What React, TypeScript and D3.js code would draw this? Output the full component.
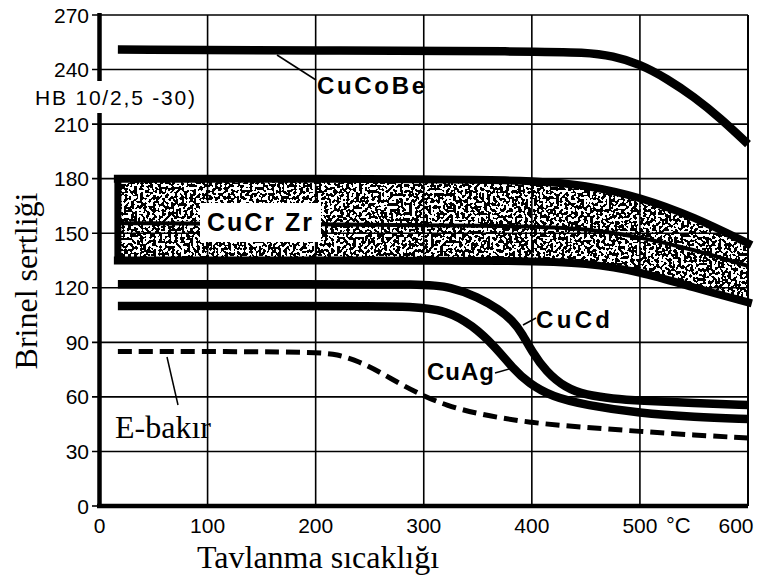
import React from "react";
import * as d3 from "d3";

// ---- data (temperature °C, Brinell hardness HB) ----
const T_COBE = [17, 200, 400, 450, 475, 500, 525, 550, 575, 600];
const HB_COBE = [251, 250.5, 250, 249.5, 247.5, 243, 235, 225, 213, 199];

const T_ZR = [17, 200, 400, 450, 500, 550, 600];
const HB_ZR_TOP = [180, 180, 179.5, 176.5, 170, 159, 144.5];
const HB_ZR_MID = [155.5, 155, 154, 152.5, 148, 141, 132];
const HB_ZR_BOT = [135, 135, 135, 133.5, 129, 120, 112];

const T_CD = [17, 200, 300, 325, 350, 370, 382, 391, 400, 413, 431, 450, 475, 500, 550, 600];
const HB_CD = [122, 122, 122, 120.5, 115, 108, 102, 95, 85, 74, 65, 61, 59, 58, 56.5, 55.5];

const T_AG = [17, 200, 290, 321, 345, 367, 382, 397, 419, 450, 500, 550, 600];
const HB_AG = [110, 110, 110, 107.5, 99.5, 87, 76, 67.5, 60, 55.5, 51, 49, 47.8];

const T_CU = [17, 120, 200, 220, 240, 260, 280, 300, 320, 350, 400, 450, 500, 550, 600];
const HB_CU = [85, 85, 84.5, 83.5, 79.5, 73.5, 66.5, 60.5, 55.5, 50.5, 45.6, 43.2, 41, 39, 37.4];

const Y_TICKS = [0, 30, 60, 90, 120, 150, 180, 210, 240, 270];
const X_TICKS = [0, 100, 200, 300, 400, 500, 600];

const W = 763;
const H = 581;

export default function App() {
  const x = d3.scaleLinear().domain([0, 600]).range([99.5, 748]);
  const y = d3.scaleLinear().domain([0, 270]).range([506, 15]);

  const mk = (ts: number[], vs: number[]) =>
    d3
      .line<number>()
      .x((_, i) => x(ts[i]))
      .y((d) => y(d))
      .curve(d3.curveBasis)(vs) as string;

  const area = d3
    .area<number>()
    .x((_, i) => x(T_ZR[i]))
    .y0((_, i) => y(HB_ZR_BOT[i]))
    .y1((d) => y(d))
    .curve(d3.curveBasis)(HB_ZR_TOP) as string;

  const sans = "'Liberation Sans', Arial, Helvetica, sans-serif";
  const serif = "'Liberation Serif', 'Times New Roman', serif";

  return (
    <svg
      width={W}
      height={H}
      viewBox={`0 0 ${W} ${H}`}
      style={{ position: "absolute", left: 0, top: 0, background: "#fff" }}
    >
      <defs>
        <filter id="spk" colorInterpolationFilters="sRGB">
          <feTurbulence type="fractalNoise" baseFrequency="0.32" numOctaves={1} seed={4} result="t" />
          <feColorMatrix
            in="t"
            type="matrix"
            values="0 0 0 0 0  0 0 0 0 0  0 0 0 0 0  1 0 0 0 0"
            result="a"
          />
          <feComponentTransfer in="a" result="b">
            <feFuncA type="discrete" tableValues="0 1" />
          </feComponentTransfer>
          <feComposite in="b" in2="SourceGraphic" operator="in" />
        </filter>
      </defs>
      <rect x={0} y={0} width={W} height={H} fill="#fff" />

      {/* horizontal grid lines + left ticks */}
      {Y_TICKS.filter((v) => v > 0).map((v) => (
        <line key={"h" + v} x1={92} x2={x(600)} y1={y(v)} y2={y(v)} stroke="#000" strokeWidth={1.6} />
      ))}
      <line x1={92} x2={100} y1={y(0)} y2={y(0)} stroke="#000" strokeWidth={1.6} />
      {/* vertical grid lines */}
      {X_TICKS.filter((v) => v > 0).map((v) => (
        <line
          key={"v" + v}
          x1={x(v)}
          x2={x(v)}
          y1={y(270)}
          y2={y(0)}
          stroke="#000"
          strokeWidth={v === 600 ? 2 : 1.6}
        />
      ))}

      {/* CuCrZr band */}
      <path d={area} fill="#000" filter="url(#spk)" />
      <path d={mk(T_ZR, HB_ZR_TOP)} fill="none" stroke="#000" strokeWidth={8} strokeLinecap="square" />
      <path d={mk(T_ZR, HB_ZR_BOT)} fill="none" stroke="#000" strokeWidth={8} strokeLinecap="square" />
      <path d={mk(T_ZR, HB_ZR_MID)} fill="none" stroke="#000" strokeWidth={4} />
      <line
        x1={x(T_ZR[0])}
        x2={x(T_ZR[0])}
        y1={y(HB_ZR_TOP[0])}
        y2={y(HB_ZR_BOT[0])}
        stroke="#000"
        strokeWidth={7}
      />
      <rect x={200} y={203} width={121} height={39} fill="#fff" />
      <text x={207} y={231} fontFamily={sans} fontWeight="bold" fontSize={25} textLength={105} lengthAdjust="spacing">
        CuCr Zr
      </text>

      {/* curves */}
      <path d={mk(T_COBE, HB_COBE)} fill="none" stroke="#000" strokeWidth={8.5} />
      <path d={mk(T_CD, HB_CD)} fill="none" stroke="#000" strokeWidth={8.5} />
      <path d={mk(T_AG, HB_AG)} fill="none" stroke="#000" strokeWidth={8.5} />
      <path d={mk(T_CU, HB_CU)} fill="none" stroke="#000" strokeWidth={5} strokeDasharray="14 7" />

      {/* axes */}
      <line x1={97} x2={x(600)} y1={y(0)} y2={y(0)} stroke="#000" strokeWidth={4.5} />
      <line x1={x(0)} x2={x(0)} y1={13} y2={81} stroke="#000" strokeWidth={4.5} />
      <line x1={x(0)} x2={x(0)} y1={113} y2={508} stroke="#000" strokeWidth={4.5} />

      {/* y tick labels */}
      {Y_TICKS.map((v) => (
        <text key={"yl" + v} x={89} y={y(v) + 7.5} textAnchor="end" fontFamily={sans} fontSize={21}>
          {v}
        </text>
      ))}
      {/* x tick labels */}
      {X_TICKS.map((v) => (
        <text
          key={"xl" + v}
          x={v === 600 ? 736 : x(v)}
          y={533}
          textAnchor="middle"
          fontFamily={sans}
          fontSize={21}
        >
          {v}
        </text>
      ))}
      <text x={666} y={533} fontFamily={sans} fontSize={22}>
        °C
      </text>

      <text x={35} y={105} fontFamily={sans} fontSize={21} textLength={160} lengthAdjust="spacing">
        HB 10/2,5 -30)
      </text>

      {/* annotations */}
      <line x1={277} y1={55} x2={316} y2={80} stroke="#000" strokeWidth={1.5} />
      <text x={317} y={94} fontFamily={sans} fontWeight="bold" fontSize={24} textLength={108} lengthAdjust="spacing">
        CuCoBe
      </text>
      <line x1={523} y1={325} x2={536} y2={318} stroke="#000" strokeWidth={1.5} />
      <text x={536} y={328} fontFamily={sans} fontWeight="bold" fontSize={24} textLength={74} lengthAdjust="spacing">
        CuCd
      </text>
      <line x1={495} y1={373} x2={513} y2={368} stroke="#000" strokeWidth={1.5} />
      <text x={427} y={380} fontFamily={sans} fontWeight="bold" fontSize={24} textLength={67} lengthAdjust="spacing">
        CuAg
      </text>
      <line x1={167} y1={357} x2={178} y2={405} stroke="#000" strokeWidth={1.5} />
      <text x={115} y={438} fontFamily={serif} fontSize={32}>
        E-bakır
      </text>

      {/* axis titles */}
      <text x={197} y={568} fontFamily={serif} fontSize={32}>
        Tavlanma sıcaklığı
      </text>
      <text
        transform={`translate(37, 281) rotate(-90)`}
        textAnchor="middle"
        fontFamily={serif}
        fontSize={32}
      >
        Brinel sertliği
      </text>
    </svg>
  );
}
